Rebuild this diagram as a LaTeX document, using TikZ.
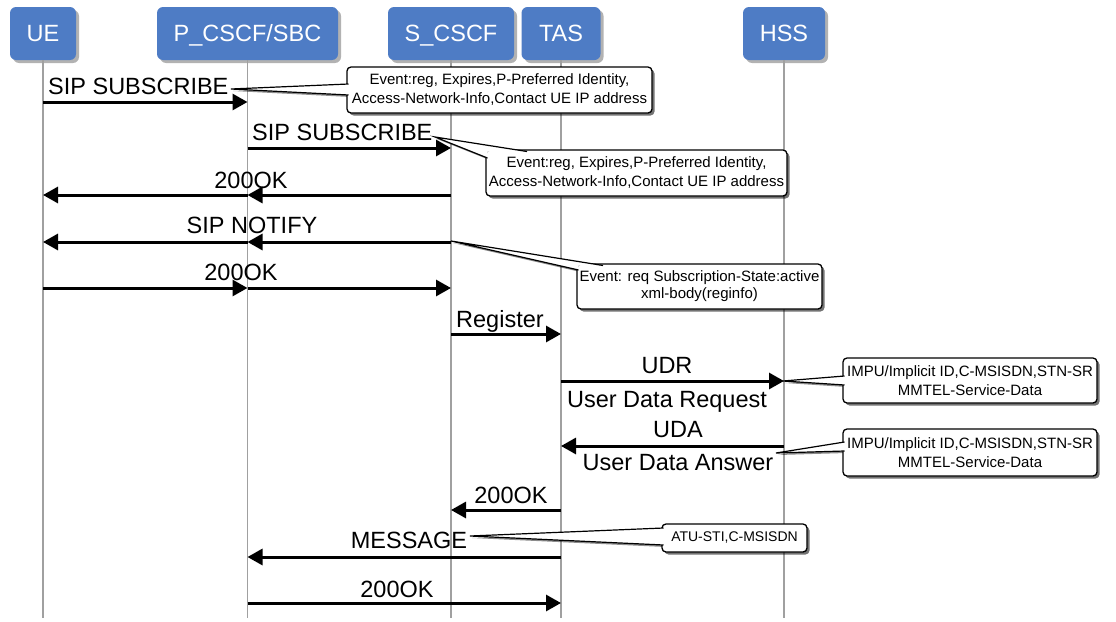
\documentclass[tikz,border=0pt]{standalone}
\usepackage{fontspec}
\setmainfont{Liberation Sans}
\usetikzlibrary{arrows.meta,calc,shadows}
\definecolor{hdrblue}{RGB}{78,124,197}
\definecolor{lifegray}{RGB}{160,160,160}
\newcommand{\bigf}{\fontsize{23.5}{26}\selectfont}
\newcommand{\smallf}{\fontsize{15}{19}\selectfont}
\newcommand{\smallfb}{\fontsize{15}{17}\selectfont}
\begin{document}
\begin{tikzpicture}[x=1pt,y=-1pt,
  hdr/.style={fill=hdrblue, rounded corners=6pt, text=white, font=\bigf,
    minimum height=53pt, inner sep=0pt, text height=16.8pt, text depth=0pt,
    drop shadow={shadow xshift=3pt,shadow yshift=-3pt,fill=black,opacity=0.3}},
  life/.style={draw=lifegray, line width=1.5pt},
  msg/.style={line width=3pt, -{Triangle[length=15pt,width=16pt]}},
  lbl/.style={font=\bigf, inner sep=0pt},
  calbox/.style={draw=black, fill=white, line width=1.3pt, rounded corners=4pt,
    inner sep=0pt, align=center, font=\smallf,
    drop shadow={shadow xshift=2.5pt,shadow yshift=-2.5pt,fill=black,opacity=0.55}},
  calline/.style={draw=black, line width=1.2pt, line join=miter},
  calsh/.style={fill=black, opacity=0.45}
]
\fill[white] (0,0) rectangle (1116,621);
\useasboundingbox (0,0) rectangle (1116,621);

% headers
\node[hdr, minimum width=66pt]  (UE)  at (43,33.5)  {UE};
\node[hdr, minimum width=181pt] (PC)  at (247.5,33.5) {P\_CSCF/SBC};
\node[hdr, minimum width=126pt] (SC)  at (451,33.5) {S\_CSCF};
\node[hdr, minimum width=79pt]  (TAS) at (561,33.5) {TAS};
\node[hdr, minimum width=82pt]  (HSS) at (784,33.5) {HSS};

% lifelines
\coordinate (UEe)  at (UE |- 0,618);
\coordinate (PCe)  at (PC |- 0,618);
\coordinate (SCe)  at (SC |- 0,618);
\coordinate (TASe) at (TAS |- 0,618);
\coordinate (HSSe) at (HSS |- 0,618);
\draw[life] (UE.south) -- (UEe);
\draw[life] (PC.south) -- (PCe);
\draw[life] (SC.south) -- (SCe);
\draw[life] (TAS.south) -- (TASe);
\draw[life] (HSS.south) -- (HSSe);

% messages
\draw[msg] (UE |- 0,102) -- (PC |- 0,102);
\draw[msg] (PC |- 0,148) -- (SC |- 0,148);
\draw[msg] (SC |- 0,195) -- (PC |- 0,195);
\draw[msg] (PC |- 0,195) -- (UE |- 0,195);
\draw[msg] (SC |- 0,242) -- (PC |- 0,242);
\draw[msg] (PC |- 0,242) -- (UE |- 0,242);
\draw[msg] (UE |- 0,288) -- (PC |- 0,288);
\draw[msg] (PC |- 0,288) -- (SC |- 0,288);
\draw[msg] (SC |- 0,334) -- (TAS |- 0,334);
\draw[msg] (TAS |- 0,381) -- (HSS |- 0,381);
\draw[msg] (HSS |- 0,446) -- (TAS |- 0,446);
\draw[msg] (TAS |- 0,510) -- (SC |- 0,510);
\draw[msg] (TAS |- 0,557) -- (PC |- 0,557);
\draw[msg] (PC |- 0,603) -- (TAS |- 0,603);

% labels
\node[lbl, anchor=base west] (l1) at (48,94) {SIP SUBSCRIBE};
\node[lbl, anchor=base west] (l2) at (252,140) {SIP SUBSCRIBE};
\node[lbl, anchor=base] (l3) at (251,188) {200OK};
\node[lbl, anchor=base] (l4) at (252,233) {SIP NOTIFY};
\node[lbl, anchor=base] (l5) at (241,280) {200OK};
\node[lbl, anchor=base west] (l6) at (456,327) {Register};
\node[lbl, anchor=base] (l7) at (667,373) {UDR};
\node[lbl, anchor=base] (l8) at (667,407) {User Data Request};
\node[lbl, anchor=base] (l9) at (678,437) {UDA};
\node[lbl, anchor=base] (l10) at (678,470) {User Data Answer};
\node[lbl, anchor=base] (l11) at (511,503) {200OK};
\node[lbl, anchor=base] (l12) at (409,548) {MESSAGE};
\node[lbl, anchor=base] (l13) at (397,597) {200OK};

% callout tips
\coordinate (t1) at (231,89);
\coordinate (t2) at (435,137);
\coordinate (t3) at (451,241);
\coordinate (t4) at (783,381);
\coordinate (t5) at (776,453);
\coordinate (t6) at (470,536);

% callout 1
\fill[calsh] ([shift={(2,2)}]t1) -- (350.5,86) -- (350.5,97) -- cycle;
\node[calbox, minimum width=305pt, minimum height=46pt] (c1) at (499.5,90)
  {Event:reg, Expires,P-Preferred Identity,\\Access-Network-Info,Contact UE IP address};
\fill[white] (t1) -- (348.5,84) -- (348.5,95) -- cycle;
\draw[calline] (348.5,84) -- (t1) -- (348.5,95);

% callout 2
\fill[calsh] ([shift={(2,2)}]t2) -- (529,153.5) -- (489.5,160) -- cycle;
\node[calbox, minimum width=301pt, minimum height=46pt] (c2) at (636.5,173)
  {Event:reg, Expires,P-Preferred Identity,\\Access-Network-Info,Contact UE IP address};
\fill[white] (t2) -- (527,151.5) -- (487.5,151.5) -- (487.5,158) -- cycle;
\draw[calline] (527,151.5) -- (t2) -- (487.5,158);

% callout 3
\fill[calsh] ([shift={(2,2)}]t3) -- (605,267.5) -- (580.5,272) -- cycle;
\node[calbox, minimum width=245pt, minimum height=45pt, font=\smallfb] (c3) at (699.5,286.5)
  {Event: req Subscription-State:active\\xml-body(reginfo)};
\fill[white] (t3) -- (603,265.5) -- (578.5,265.5) -- (578.5,270) -- cycle;
\draw[calline] (603,265.5) -- (t3) -- (578.5,270);

% callout 4
\fill[calsh] ([shift={(2,2)}]t4) -- (846.5,378) -- (846.5,387) -- cycle;
\node[calbox, minimum width=254pt, minimum height=45pt] (c4) at (970,380.5)
  {IMPU/Implicit ID,C-MSISDN,STN-SR\\MMTEL-Service-Data};
\fill[white] (t4) -- (844.5,376) -- (844.5,385) -- cycle;
\draw[calline] (844.5,376) -- (t4) -- (844.5,385);

% callout 5
\fill[calsh] ([shift={(2,2)}]t5) -- (846.5,444) -- (846.5,453) -- cycle;
\node[calbox, minimum width=254pt, minimum height=47pt] (c5) at (970,452.5)
  {IMPU/Implicit ID,C-MSISDN,STN-SR\\MMTEL-Service-Data};
\fill[white] (t5) -- (844.5,442) -- (844.5,451) -- cycle;
\draw[calline] (844.5,442) -- (t5) -- (844.5,451);

% callout 6
\fill[calsh] ([shift={(2,2)}]t6) -- (665.5,530) -- (665.5,547) -- cycle;
\node[calbox, minimum width=145pt, minimum height=28pt, font=\fontsize{14}{16}\selectfont] (c6) at (734.5,538)
  {ATU-STI,C-MSISDN};
\fill[white] (t6) -- (663.5,528) -- (663.5,545) -- cycle;
\draw[calline] (663.5,528) -- (t6) -- (663.5,545);
\end{tikzpicture}
\end{document}
